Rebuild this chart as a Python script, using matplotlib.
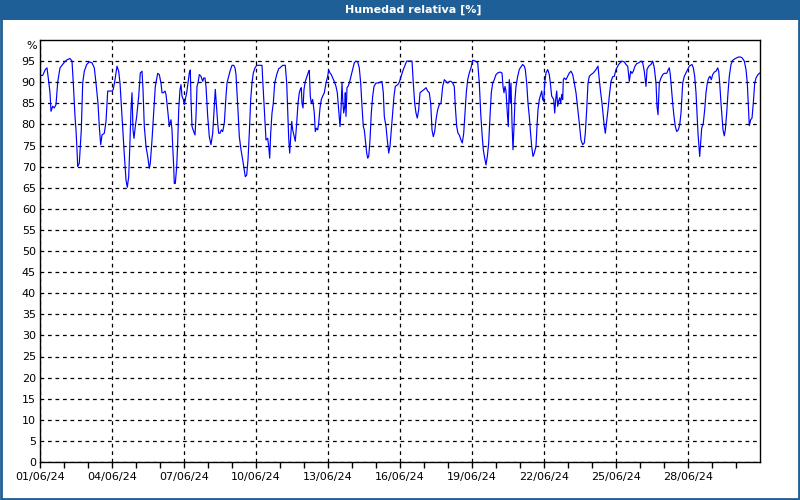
import matplotlib
matplotlib.use("Agg")
import matplotlib.pyplot as plt
import matplotlib.dates as mdates
from matplotlib.patches import Rectangle
from matplotlib.ticker import FixedLocator
import datetime as dt

# hours since 01/06/24 00:00
hours = [0, 2.7, 5.3, 7, 8.7, 10, 11, 12.7, 14.3, 16, 17.7, 20, 22.7, 25.3, 27.7, 30, 32, 33.3, 35, 36, 37, 37.7, 39.3, 40.3, 41.3, 42.7, 44.3, 46.7, 49.3, 52, 54.3, 56, 58, 59.3, 60.7, 62, 64.3, 66, 67.7, 72, 73.3, 75, 77, 78.7, 80, 82, 84, 86, 87.3, 88.7, 89.7, 91, 92, 93, 94, 95.3, 96.7, 98.7, 100.3, 102, 103, 104.3, 106, 107.7, 109.3, 110.3, 112, 113.7, 115.3,
         117.7, 119.3, 121, 122, 123.3, 125, 126, 127, 128.3, 129.3, 130, 131, 132, 132.7, 133.7, 134.3, 135.3, 136.7, 137.7, 138.7, 140, 141, 142, 143.3, 144.3, 145.3, 146.7, 148, 149.3, 150.3, 151, 152, 153.7, 155, 156, 157, 158.3, 159.3, 161, 162.7, 163.7, 165, 166, 167.7, 169.3, 171, 172.7, 174.3, 175.3, 176.3, 177.7, 178.7, 180, 181.3, 182.7, 184.3, 186, 187, 188.7, 190, 192, 193.7, 195, 196, 197, 198.3, 199.3, 201, 202.7, 204, 205.3, 206.7, 208, 209.3, 210.7, 212, 213.3, 215, 216.7, 219.3, 222, 222.7, 224.3, 226, 227.7, 228.7, 229.7, 230.7, 232, 233.3, 234.7, 236.7, 238.7,
         240, 242.7, 245.3, 246.7, 247.7, 248.7, 249.7, 250.7, 251.7, 252.7, 254.3, 255.3, 256.7, 258, 259.3, 260.3, 261.3, 262, 263, 264, 265.3, 267, 268.7, 269.3, 270.3, 271.3, 272.7, 274.3, 275.3, 276.3, 277.7, 278.7, 280, 281.3, 282.7, 284.3, 286, 287.7, 288.7, 290, 291.3, 292.7, 294.3, 296, 297.3, 298.7, 300, 301, 302, 302.7, 303.7, 304.7, 305.3, 306, 307, 308, 309.3, 311, 312.7, 314.3, 316, 317.7, 319.3, 320.7, 322, 323.3, 324.3, 325.3, 326.7, 327.7, 328.7, 330, 331.3, 332.7, 334, 336, 338, 340, 342, 343.3, 344.3, 346, 347.3, 348.7, 350, 351.3, 352.7, 354, 355.3, 357.7, 359.3,
         361.7, 363.3, 365, 366.7, 369.3, 372, 373.3, 374.7, 376, 377.3, 378.7, 380, 382, 384.3, 386, 387.7, 389.3, 390.7, 392, 393.3, 394.7, 396, 397.7, 399.3, 401, 402.7, 404.3, 406, 407.7, 409.3, 411, 412.7, 414.3, 415.3, 416.7, 418, 419.3, 421, 422.3, 423.7, 425, 426.3, 427.7, 429.3, 431, 432.7, 435.3, 437.7, 439.3, 440.7, 442, 443.3, 444.7, 446, 447.3, 448.7, 450, 451.3, 452.7, 454.3, 456, 457.7, 460, 462, 463, 464, 465, 466, 467.3, 468.3, 469.3, 470.3, 471, 472, 473, 474, 475, 476, 477.7, 479.3,
         480.3, 482.7, 484.3, 485.3, 486.7, 488, 489.3, 490.3, 491.7, 493, 494.3, 496, 497, 498, 499.3, 500.7, 501.7, 502.7, 503.7, 504.7, 506, 507.7, 509.3, 510.3, 511.7, 512.7, 513.7, 514.7, 515.7, 516.7, 517.7, 518.7, 519.7, 520.7, 521.7, 522.7, 523.3, 524.3, 526, 527.7, 529.3, 531, 532.7, 534.3, 536, 537.7, 539.3, 541, 542.7, 544.3, 545.3, 546.7, 548, 549.3, 551, 553.3, 556, 558, 559.3, 560.7, 562, 563.3, 564.3, 565.3, 566.7, 568, 569.3, 571, 572.7, 574.3, 576, 577.7, 579.3, 582, 584.3, 586, 587.7, 589.3, 590.7, 592, 593.3, 595, 596.7, 598.7,
         601, 602.7, 604.3, 606, 607, 608.7, 611, 612.7, 614.3, 616, 617, 618, 618.7, 619.3, 621, 622.7, 624.3, 626.7, 628.3, 629.3, 630.3, 631.3, 632.7, 634, 635.3, 636.7, 638.3, 639.7, 641, 642.7, 644.3, 646, 647.7, 649.3, 652, 653.3, 654.7, 656, 657, 658, 659, 659.7, 660.7, 661.7, 663.3, 664.7, 666, 667.3, 668.7, 670, 671.3, 672.7, 674.3, 676, 677.7, 678.7, 679.7, 681, 682, 683, 684.3, 685.3, 686.7, 688, 689.3, 691, 692.7, 695.3, 697.7, 700, 702, 704.3, 706, 707.3, 708.3, 709.3, 710.7, 712, 713.3, 714.7, 716, 718, 720]

humidity = [91.6, 91.6, 93.0, 93.4, 90.2, 87.5, 83.1, 84.3, 83.9, 84.7, 90.0, 93.4, 94.2, 95.0, 95.4, 95.6, 95.0, 89.8, 81.9, 78.7, 74.0, 70.0, 70.8, 74.8, 78.7, 89.8, 92.6, 94.2, 94.8, 94.6, 93.4, 89.8, 85.0, 79.5, 75.2, 77.5, 77.9, 80.7, 87.9, 87.9, 88.3, 90.6, 93.8, 92.6, 89.8, 81.9, 74.0, 66.8, 65.1, 67.6, 74.0, 83.5, 87.5, 78.7, 76.7, 79.5, 81.9, 86.7, 92.2, 92.6, 88.3, 79.5, 74.8, 72.4, 69.6, 70.8, 76.3, 82.7, 89.0,
            92.1, 91.8, 89.8, 87.5, 87.5, 87.9, 87.1, 85.0, 81.9, 79.5, 80.3, 81.1, 78.7, 74.8, 70.0, 66.0, 66.0, 70.0, 75.6, 83.5, 88.3, 89.4, 86.7, 85.9, 84.7, 85.9, 87.5, 89.8, 92.2, 92.9, 85.9, 79.5, 78.3, 77.5, 81.9, 89.0, 90.2, 91.8, 91.4, 90.2, 91.0, 91.0, 89.0, 81.9, 77.1, 75.2, 77.9, 84.3, 88.3, 85.0, 80.3, 77.9, 77.9, 78.7, 78.3, 80.3, 86.7, 89.8, 91.4, 92.6, 94.0, 94.0, 93.4, 91.8, 87.5, 81.9, 77.1, 74.0, 71.6, 69.6, 67.6, 68.0, 71.6, 77.9, 85.9, 89.8, 92.2, 93.4, 94.0, 94.0, 94.0, 90.6, 83.5, 76.3, 76.7, 74.8, 72.0, 77.9, 82.7, 85.0, 89.8, 91.8, 93.2,
            93.4, 94.0, 94.0, 89.8, 83.5, 76.7, 73.2, 77.1, 80.7, 78.7, 77.1, 76.0, 80.3, 85.0, 87.5, 88.3, 88.7, 85.0, 83.9, 88.3, 90.2, 91.4, 92.6, 92.8, 86.7, 85.0, 85.9, 82.7, 78.3, 79.1, 78.7, 80.3, 83.9, 85.9, 86.7, 87.5, 89.8, 91.4, 92.9, 92.2, 91.8, 91.0, 90.2, 89.0, 87.5, 83.5, 79.5, 83.5, 89.8, 85.9, 82.7, 84.3, 87.5, 81.9, 88.7, 89.0, 89.8, 91.4, 93.0, 94.6, 95.0, 94.8, 93.4, 89.8, 84.3, 79.5, 78.7, 76.3, 73.2, 72.0, 72.4, 76.3, 82.7, 86.7, 89.0, 89.8, 89.8, 90.0, 90.2, 87.5, 81.9, 79.5, 76.3, 73.2, 74.8, 78.7, 82.7, 86.7, 89.0, 89.4, 90.0,
            91.8, 93.0, 94.0, 95.0, 95.0, 95.0, 89.8, 85.0, 82.7, 81.5, 83.5, 87.5, 87.9, 88.3, 88.7, 87.9, 87.5, 85.0, 78.7, 77.1, 78.3, 81.1, 83.5, 84.7, 85.0, 89.0, 90.6, 90.2, 89.8, 90.2, 90.2, 89.8, 89.0, 84.3, 79.5, 77.9, 77.5, 76.3, 75.6, 77.9, 82.7, 87.5, 90.6, 92.2, 93.4, 95.2, 95.0, 94.6, 89.8, 82.7, 77.9, 74.0, 72.0, 70.4, 72.4, 75.6, 81.9, 87.5, 89.8, 90.6, 91.8, 92.2, 92.4, 92.2, 89.0, 87.5, 89.0, 87.9, 82.7, 79.5, 90.6, 85.0, 89.8, 80.3, 74.0, 79.5, 85.9, 89.0, 91.4, 93.0,
            93.4, 94.2, 93.8, 93.0, 89.8, 85.0, 81.9, 78.7, 74.8, 72.4, 73.2, 74.8, 79.5, 83.5, 85.9, 87.1, 87.9, 85.9, 85.5, 89.8, 92.2, 93.0, 91.8, 89.8, 86.7, 86.3, 85.9, 82.7, 85.9, 87.9, 84.3, 85.5, 86.3, 85.0, 87.1, 85.9, 90.6, 91.0, 90.6, 91.4, 92.2, 92.6, 91.8, 89.8, 87.5, 83.9, 80.3, 76.3, 75.2, 75.6, 77.9, 83.5, 89.8, 91.4, 91.8, 92.2, 93.0, 93.8, 90.6, 87.5, 85.0, 81.9, 79.5, 77.9, 80.7, 83.5, 86.7, 90.2, 91.3, 91.4, 93.0, 93.8, 94.4, 95.0, 94.8, 94.2, 93.8, 90.2, 92.6, 92.1, 92.6, 93.8, 94.4, 94.6,
            95.0, 94.6, 92.6, 89.0, 93.0, 93.8, 94.2, 95.0, 93.4, 89.8, 84.3, 82.3, 86.7, 89.8, 91.0, 91.8, 92.1, 92.1, 93.0, 93.4, 91.8, 89.0, 85.0, 81.9, 79.5, 78.3, 78.7, 79.9, 82.7, 89.8, 91.4, 92.2, 93.0, 93.8, 94.2, 93.4, 91.4, 87.5, 82.7, 77.9, 74.8, 72.4, 75.6, 79.1, 80.3, 83.5, 87.5, 89.8, 91.0, 91.4, 90.6, 91.8, 92.4, 92.6, 93.4, 92.6, 89.8, 85.0, 81.9, 78.7, 77.3, 78.7, 82.7, 87.5, 91.4, 94.2, 95.2, 95.6, 95.9, 96.0, 95.8, 95.0, 93.0, 89.8, 85.0, 79.7, 81.1, 81.5, 85.0, 89.8, 91.0, 91.8, 92.2]

y_ticks = list(range(0, 100, 5))
major_day_offsets = [0, 3, 6, 9, 12, 15, 18, 21, 24, 27]
minor_day_offsets = list(range(0, 30))
title_text = "Humedad relativa [%]"
unit_text = "%"

start = dt.datetime(2024, 6, 1)
times = [start + dt.timedelta(hours=h) for h in hours]
major_dates = [mdates.date2num(start + dt.timedelta(days=d)) for d in major_day_offsets]
minor_dates = [mdates.date2num(start + dt.timedelta(days=d)) for d in minor_day_offsets]

plt.rcParams['font.family'] = ['DejaVu Sans']
fig = plt.figure(figsize=(8, 5), dpi=100, facecolor='white')

# title bar and frame
bar_color = '#1e5f97'
fig.patches.append(Rectangle((0, 0.96), 1, 0.04, transform=fig.transFigure,
                             facecolor=bar_color, edgecolor='none', zorder=0))
fig.patches.append(Rectangle((0.0015, 0.0025), 0.997, 0.99, transform=fig.transFigure,
                             facecolor='none', edgecolor=bar_color, linewidth=2, zorder=1))
fig.text(0.517, 0.98, title_text, color='white', fontsize=8, fontweight='bold',
         ha='center', va='center')

ax = fig.add_axes([0.05, 0.076, 0.9, 0.844])
ax.plot(times, humidity, color='#0000ff', linewidth=0.85)

ax.set_xlim(start, start + dt.timedelta(days=30))
ax.set_ylim(0, 100)
ax.set_yticks(y_ticks)
ax.tick_params(axis='y', length=0, pad=3, labelsize=8)
ax.xaxis.set_major_locator(FixedLocator(major_dates))
ax.xaxis.set_minor_locator(FixedLocator(minor_dates))
ax.xaxis.set_major_formatter(mdates.DateFormatter('%d/%m/%y'))
ax.tick_params(axis='x', which='both', length=4, width=1, direction='out', labelsize=8, pad=3)

ax.grid(True, which='major', axis='both', color='black', linestyle=(0, (3, 3)), linewidth=0.9)
for s in ax.spines.values():
    s.set_color('black')
    s.set_linewidth(1)

ax.text(-0.004, 98.6, unit_text, transform=ax.get_yaxis_transform(), ha='right', va='center', fontsize=8)

fig.savefig('out.png', dpi=100, facecolor='white')
